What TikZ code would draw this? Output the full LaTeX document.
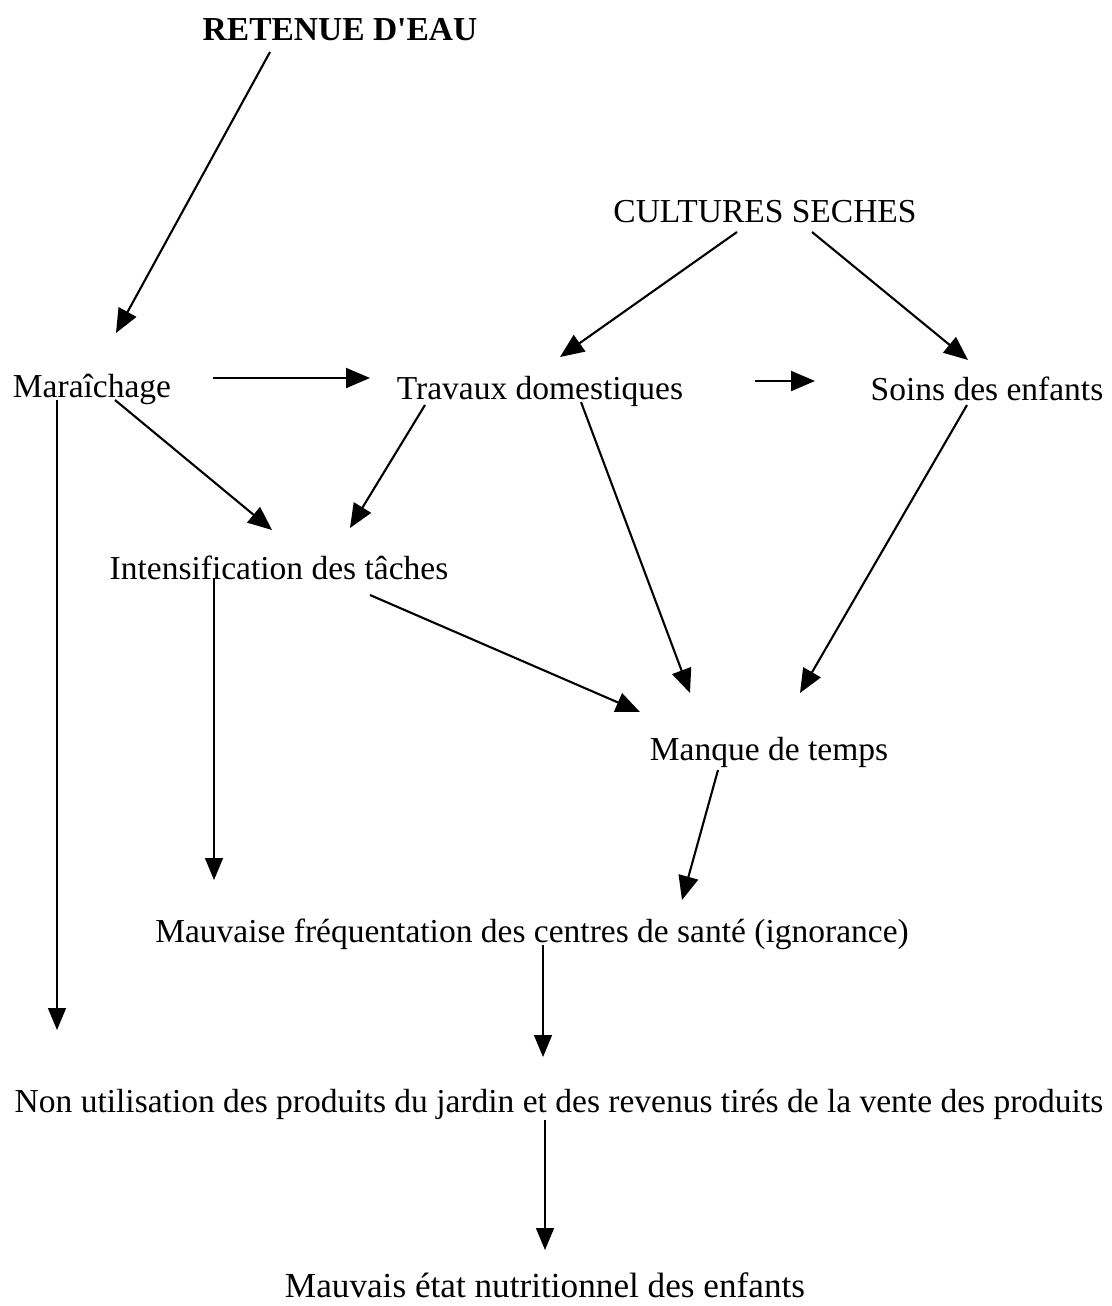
\documentclass[tikz,border=0pt]{standalone}
\usepackage{fontspec}
\setmainfont{Liberation Serif}
\usetikzlibrary{arrows.meta}
\begin{document}
\begin{tikzpicture}[x=0.5pt,y=-0.5pt,
  lbl/.style={anchor=base,inner sep=0pt,font=\fontsize{16.75}{20}\selectfont},
  arr/.style={line width=1.05pt,-{Triangle[length=12pt,width=10pt]}},
  varr/.style={line width=0.8pt,-{Triangle[length=11pt,width=9pt]}}]
\useasboundingbox (0,0) rectangle (1112,1306);
\node[lbl,font=\fontsize{16.75}{20}\selectfont\bfseries] (ret) at (340,40) {RETENUE D\textquotesingle EAU};
\node[lbl] (cs) at (765,222) {CULTURES SECHES};
\node[lbl] (mar) at (92,397) {Maraîchage};
\node[lbl] (trav) at (540,399) {Travaux domestiques};
\node[lbl] (soins) at (987,400) {Soins des enfants};
\node[lbl] (int) at (279,579) {Intensification des tâches};
\node[lbl] (man) at (769,760) {Manque de temps};
\node[lbl] (freq) at (532,942) {Mauvaise fréquentation des centres de santé (ignorance)};
\node[lbl] (non) at (559,1112) {Non utilisation des produits du jardin et des revenus tirés de la vente des produits};
\node[lbl,font=\fontsize{17.6}{20}\selectfont] (etat) at (545,1297) {Mauvais état nutritionnel des enfants};

\draw[arr] ([shift={(-70,12)}]ret.base) -- ([shift={(24,-64)}]mar.base);
\draw[arr] ([shift={(121,-19)}]mar.base) -- ([shift={(-170,-21)}]trav.base);
\draw[arr] ([shift={(215,-18)}]trav.base) -- ([shift={(-172,-19)}]soins.base);
\draw[arr] ([shift={(-28,10)}]cs.base) -- ([shift={(20,-42)}]trav.base);
\draw[arr] ([shift={(47,10)}]cs.base) -- ([shift={(-19,-40)}]soins.base);
\draw[arr] ([shift={(-115,6)}]trav.base) -- ([shift={(71,-51)}]int.base);
\draw[arr] ([shift={(23,3)}]mar.base) -- ([shift={(-7,-49)}]int.base);
\draw[varr] ([shift={(-65,-1)}]int.base) -- ([shift={(-318,-62)}]freq.base);
\draw[arr] ([shift={(91,16)}]int.base) -- ([shift={(-129,-48)}]man.base);
\draw[arr] ([shift={(41,3)}]trav.base) -- ([shift={(-79,-67)}]man.base);
\draw[arr] ([shift={(-20,5)}]soins.base) -- ([shift={(31,-67)}]man.base);
\draw[arr] ([shift={(-51,10)}]man.base) -- ([shift={(150,-42)}]freq.base);
\draw[varr] ([shift={(-35,3)}]mar.base) -- ([shift={(-502,-82)}]non.base);
\draw[varr] ([shift={(11,3)}]freq.base) -- ([shift={(-16,-55)}]non.base);
\draw[varr] ([shift={(-14,8)}]non.base) -- ([shift={(0,-47)}]etat.base);
\end{tikzpicture}
\end{document}
